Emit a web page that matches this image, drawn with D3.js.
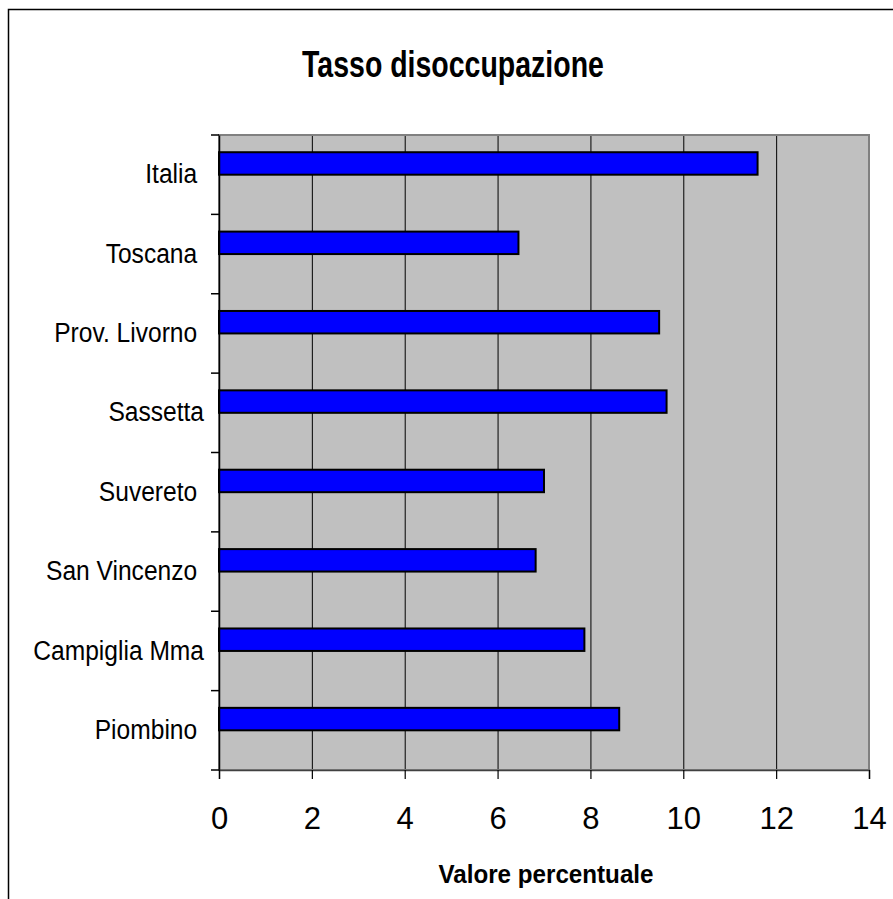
<!DOCTYPE html>
<html>
<head>
<meta charset="utf-8">
<script src="https://cdn.jsdelivr.net/npm/d3@7/dist/d3.min.js"></script>
<style>
  html, body { margin: 0; padding: 0; background: #ffffff; }
  svg { display: block; }
  text { font-family: "Liberation Sans", Arial, sans-serif; fill: #000; }
</style>
</head>
<body>
<svg id="chart" width="893" height="899"></svg>
<script>
// ---- data ----
const categories = ["Italia ", "Toscana ", "Prov. Livorno ", "Sassetta", "Suvereto ", "San Vincenzo ", "Campiglia Mma", "Piombino "];
const values = [11.6, 6.45, 9.48, 9.64, 7.0, 6.82, 7.87, 8.62];
const xTicks = [0, 2, 4, 6, 8, 10, 12, 14];
const title = "Tasso disoccupazione";
const xTitle = "Valore percentuale";

// ---- layout ----
const svg = d3.select("#chart");
const pLeft = 219, pRight = 869, pTop = 135, pBottom = 770;

const x = d3.scaleLinear().domain([0, 14]).range([pLeft, pRight]);
const y = d3.scaleBand().domain(categories).range([pTop, pBottom]).paddingInner(0).paddingOuter(0);

// horizontally squeeze text (the source rendering uses condensed glyphs)
function squeeze(sel, f) {
  sel.each(function () {
    const L = this.getComputedTextLength();
    d3.select(this).attr("textLength", L * f).attr("lengthAdjust", "spacingAndGlyphs");
  });
}

// outer frame (extends beyond the viewport on right/bottom)
svg.append("rect")
  .attr("x", 8.5).attr("y", 9.5)
  .attr("width", 1000).attr("height", 1000)
  .attr("fill", "#fff").attr("stroke", "#000").attr("stroke-width", 1.5);

// title
svg.append("text")
  .attr("x", 453).attr("y", 77)
  .attr("text-anchor", "middle")
  .attr("font-size", 37).attr("font-weight", "bold")
  .text(title)
  .call(squeeze, 0.77);

// plot background
svg.append("rect")
  .attr("x", pLeft).attr("y", pTop)
  .attr("width", pRight - pLeft).attr("height", pBottom - pTop)
  .attr("fill", "#c0c0c0");

// gridlines
svg.append("g")
  .selectAll("line")
  .data(xTicks.slice(1, -1))
  .join("line")
  .attr("x1", d => x(d) + 0.5).attr("x2", d => x(d) + 0.5)
  .attr("y1", pTop).attr("y2", pBottom)
  .attr("stroke", "#000").attr("stroke-width", 1);

// plot border
svg.append("rect")
  .attr("x", pLeft).attr("y", pTop)
  .attr("width", pRight - pLeft).attr("height", pBottom - pTop)
  .attr("fill", "none").attr("stroke", "#808080").attr("stroke-width", 2);

// bars
const barH = y.bandwidth() * 0.283;
svg.append("g")
  .selectAll("rect")
  .data(categories)
  .join("rect")
  .attr("x", x(0))
  .attr("y", (d) => y(d) + y.bandwidth() / 2 - barH)
  .attr("width", (d, i) => x(values[i]) - x(0))
  .attr("height", barH)
  .attr("fill", "#0000ff")
  .attr("stroke", "#000")
  .attr("stroke-width", 2);

// y axis
const yAxis = d3.axisLeft(y).tickSize(0).tickPadding(15).tickFormat(d => d);
const gy = svg.append("g").attr("transform", `translate(${pLeft},0)`).call(yAxis);
gy.select(".domain").attr("stroke", "#000").attr("stroke-width", 1.5);
gy.selectAll("text")
  .attr("font-size", 27)
  .attr("font-family", "Liberation Sans, Arial, sans-serif")
  .attr("fill", "#000")
  .style("white-space", "pre")
  .call(squeeze, 0.91);
// category boundary ticks
svg.append("g")
  .selectAll("line")
  .data(categories.concat([null]))
  .join("line")
  .attr("x1", pLeft - 8).attr("x2", pLeft)
  .attr("y1", (d, i) => (i < categories.length ? y(d) : pBottom))
  .attr("y2", (d, i) => (i < categories.length ? y(d) : pBottom))
  .attr("stroke", "#000").attr("stroke-width", 1.5);

// x axis
const xAxis = d3.axisBottom(x).tickValues(xTicks).tickSize(9).tickPadding(28).tickFormat(d3.format("d"));
const gx = svg.append("g").attr("transform", `translate(0,${pBottom})`).call(xAxis);
gx.select(".domain").attr("stroke", "#404040").attr("stroke-width", 1.5);
gx.selectAll(".tick line").attr("stroke", "#000").attr("stroke-width", 1.2);
gx.selectAll("text")
  .attr("font-size", 31)
  .attr("font-family", "Liberation Sans, Arial, sans-serif")
  .attr("fill", "#000");

// x axis title
svg.append("text")
  .attr("x", 546).attr("y", 883)
  .attr("text-anchor", "middle")
  .attr("font-size", 26).attr("font-weight", "bold")
  .text(xTitle)
  .call(squeeze, 0.93);
</script>
</body>
</html>
